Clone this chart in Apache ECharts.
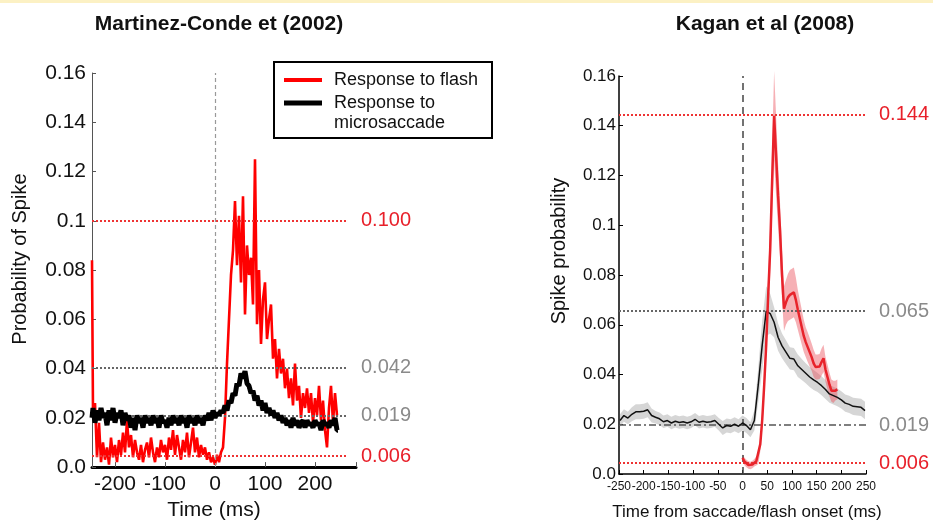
<!DOCTYPE html>
<html><head><meta charset="utf-8">
<script src="https://cdn.jsdelivr.net/npm/echarts@6/dist/echarts.min.js"></script>
<style>html,body{margin:0;padding:0;background:#fff}#c{width:933px;height:526px}</style>
</head><body><div id="c"></div>
<script>
// ---------- Martinez-Conde et (2002): 4 ms bins starting at -246 ms ----------
const mcFirstBinMs = -246;
const mcBinWidthMs = 4;
const mcFlash = [
  0.084,0.022,0.026,0.004,0.018,0.002,0.010,0.003,0.008,0.001,
  0.012,0.004,0.009,0.002,0.011,0.005,0.014,0.006,0.019,0.008,
  0.013,0.004,0.011,0.006,0.003,0.009,0.002,0.007,0.010,0.004,
  0.012,0.006,0.002,0.008,0.004,0.011,0.006,0.009,0.003,0.012,
  0.007,0.015,0.005,0.013,0.008,0.003,0.011,0.006,0.014,0.004,
  0.010,0.016,0.006,0.012,0.004,0.009,0.005,0.008,0.003,0.006,
  0.002,0.004,0.001,0.005,0.002,0.006,0.008,0.020,0.042,0.060,
  0.078,0.088,0.108,0.082,0.102,0.075,0.110,0.062,0.090,0.078,
  0.085,0.066,0.125,0.058,0.080,0.050,0.068,0.075,0.052,0.060,
  0.066,0.044,0.052,0.036,0.048,0.038,0.044,0.032,0.040,0.028,
  0.036,0.025,0.042,0.027,0.033,0.020,0.030,0.024,0.032,0.022,
  0.030,0.018,0.028,0.021,0.033,0.019,0.027,0.015,0.008,0.024,
  0.033,0.018,0.030,0.021
];
const mcMicro = [
  0.020,0.024,0.018,0.023,0.019,0.024,0.020,0.022,0.017,0.023,
  0.019,0.024,0.018,0.022,0.020,0.023,0.017,0.022,0.019,0.021,
  0.016,0.020,0.015,0.021,0.018,0.020,0.016,0.021,0.018,0.020,
  0.017,0.021,0.018,0.020,0.016,0.021,0.018,0.019,0.016,0.020,
  0.017,0.021,0.018,0.020,0.017,0.021,0.018,0.020,0.016,0.021,
  0.018,0.020,0.017,0.021,0.018,0.020,0.017,0.021,0.019,0.022,
  0.019,0.023,0.020,0.022,0.021,0.023,0.022,0.025,0.023,0.027,
  0.026,0.030,0.029,0.034,0.033,0.038,0.036,0.039,0.034,0.033,
  0.030,0.031,0.027,0.029,0.025,0.027,0.023,0.026,0.022,0.024,
  0.021,0.023,0.020,0.022,0.019,0.021,0.018,0.020,0.017,0.019,
  0.016,0.020,0.017,0.019,0.016,0.018,0.019,0.016,0.019,0.017,
  0.018,0.016,0.019,0.017,0.018,0.015,0.019,0.017,0.018,0.016,
  0.019,0.017,0.020,0.015
];
const mcRefValues = [0.1, 0.0405, 0.021, 0.0045];
const mcRefLabels = ['0.100', '0.042', '0.019', '0.006'];
const mcRefKinds  = ['red', 'gray', 'gray', 'red'];
const mcRefSpanMs = [-246, 266];

// ---------- Kagan et al (2008) ----------
const kMicroTimes = [
  -248,-240,-232,-224,-216,-208,-200,-192,-184,-176,
  -168,-160,-152,-144,-136,-128,-120,-112,-104,-96,
  -88,-80,-72,-64,-56,-48,-40,-32,-24,-16,
  -8,0,8,16,24,32,40,48,56,64,
  72,80,88,96,104,112,120,128,136,144,
  152,160,168,176,184,192,200,208,216,224,
  232,240,248
];
const kMicroMean = [
  0.0215,0.0235,0.0225,0.0240,0.0250,0.0250,0.0252,0.0258,0.0235,0.0228,
  0.0222,0.0210,0.0215,0.0205,0.0212,0.0207,0.0210,0.0205,0.0210,0.0220,
  0.0208,0.0212,0.0208,0.0210,0.0215,0.0200,0.0185,0.0195,0.0192,0.0200,
  0.0192,0.0205,0.0195,0.0178,0.0215,0.0360,0.0520,0.0655,0.0645,0.0610,
  0.0550,0.0515,0.0490,0.0465,0.0462,0.0435,0.0420,0.0405,0.0390,0.0378,
  0.0368,0.0355,0.0340,0.0322,0.0315,0.0308,0.0298,0.0285,0.0280,0.0272,
  0.0270,0.0268,0.0255
];
const kMicroSpread = [
  0.0025,0.0025,0.0025,0.0028,0.0030,0.0030,0.0030,0.0030,0.0028,0.0025,
  0.0025,0.0025,0.0025,0.0025,0.0025,0.0025,0.0025,0.0025,0.0025,0.0025,
  0.0025,0.0025,0.0025,0.0025,0.0025,0.0025,0.0028,0.0028,0.0028,0.0028,
  0.0028,0.0030,0.0030,0.0030,0.0040,0.0070,0.0100,0.0100,0.0080,0.0060,
  0.0055,0.0050,0.0048,0.0045,0.0045,0.0045,0.0042,0.0040,0.0040,0.0040,
  0.0038,0.0038,0.0038,0.0036,0.0036,0.0036,0.0035,0.0035,0.0035,0.0035,
  0.0035,0.0035,0.0035
];
const kFlashTimes = [
  0,4,8,12,16,20,24,28,32,36,
  40,44,48,52,56,60,64,68,72,76,
  80,84,88,92,96,100,104,108,112,116,
  120,124,128,132,136,140,144,148,152,156,
  160,164,168,172,176,180,184,188,192
];
const kFlashMean = [
  0.0065,0.0050,0.0042,0.0036,0.0034,0.0038,0.0045,0.0052,0.0060,0.0120,
  0.0220,0.0360,0.0520,0.0720,0.0900,0.1180,0.1440,0.1280,0.1120,0.0980,
  0.0800,0.0665,0.0690,0.0710,0.0720,0.0725,0.0730,0.0700,0.0660,0.0625,
  0.0590,0.0555,0.0530,0.0510,0.0490,0.0470,0.0445,0.0430,0.0430,0.0432,
  0.0450,0.0465,0.0420,0.0390,0.0360,0.0335,0.0330,0.0335,0.0340
];
const kFlashSpread = [
  0.0015,0.0015,0.0015,0.0015,0.0015,0.0015,0.0015,0.0018,0.0020,0.0030,
  0.0040,0.0050,0.0060,0.0080,0.0100,0.0140,0.0180,0.0160,0.0130,0.0110,
  0.0100,0.0090,0.0090,0.0095,0.0100,0.0100,0.0100,0.0090,0.0080,0.0075,
  0.0070,0.0065,0.0060,0.0060,0.0058,0.0055,0.0055,0.0050,0.0050,0.0050,
  0.0055,0.0055,0.0050,0.0050,0.0048,0.0045,0.0045,0.0040,0.0040
];
const kRefValues = [0.1445, 0.0655, 0.0197, 0.0044];
const kRefLabels = ['0.144', '0.065', '0.019', '0.006'];
const kRefKinds  = ['red', 'gray', 'dashdot', 'red'];

const titles = ['Martinez-Conde et (2002)', 'Kagan et al (2008)'];
const legendNames = ['Response to flash', 'Response to', 'microsaccade'];

// ---------- build ----------
const FONT = "'Liberation Sans', Arial, sans-serif";
const RED = '#ff0000', KRED = '#e8232b', LBL_RED = '#e8202a', LBL_GRAY = '#8a8a8a';

const mcTimes = mcFlash.map((_, i) => mcFirstBinMs + i * mcBinWidthMs);
const zip = (ts, vs) => ts.map((t, i) => [t, vs[i]]);
const yFmt = v => Math.abs(v) < 1e-9 ? '0.0' : String(Math.round(v * 100) / 100);

function refStyle(kind) {
  if (kind === 'red') return { color: '#ee3333', type: 'dotted', width: 2 };
  if (kind === 'gray') return { color: '#666666', type: 'dotted', width: 2 };
  return { color: '#555555', type: [7, 3, 2, 3], width: 1.5 };
}
function refLines(values, labels, kinds, span, size) {
  return values.map((v, i) => [
    { coord: [span[0], v], lineStyle: refStyle(kinds[i]),
      label: { show: true, position: 'end', distance: 13, formatter: labels[i],
               color: kinds[i] === 'red' ? LBL_RED : LBL_GRAY, fontSize: size, fontFamily: FONT } },
    { coord: [span[1], v] }
  ]);
}
function bandSeries(times, mean, spread, fill) {
  return {
    type: 'custom', xAxisIndex: 1, yAxisIndex: 1, z: 1, silent: true,
    data: times.map((t, i) => [t, mean[i] - spread[i], mean[i] + spread[i]]),
    encode: { x: 0, y: [1, 2] },
    renderItem: (params, api) => {
      if (params.dataIndex !== 0) return null;
      const pts = [];
      for (let i = 0; i < times.length; i++) pts.push(api.coord([times[i], mean[i] + spread[i]]));
      for (let i = times.length - 1; i >= 0; i--) pts.push(api.coord([times[i], mean[i] - spread[i]]));
      return { type: 'polygon', shape: { points: pts }, style: { fill: fill } };
    }
  };
}

const chart = echarts.init(document.getElementById('c'));
chart.setOption({
  animation: false,
  backgroundColor: '#fff',
  grid: [
    { left: 92, right: 577, top: 73, bottom: 52 },
    { left: 619, right: 67, top: 76, bottom: 52 }
  ],
  xAxis: [
    { gridIndex: 0, type: 'value', min: -246, max: 282, splitNumber: 5,
      axisLine: { onZero: false, lineStyle: { color: '#000', width: 3 } },
      axisTick: { inside: true, length: 5, lineStyle: { color: '#555' } },
      axisLabel: { formatter: v => (v % 100 === 0 ? String(v) : ''), fontSize: 21, color: '#111', fontFamily: FONT, margin: 7 },
      splitLine: { show: false },
      name: 'Time (ms)', nameLocation: 'middle', nameGap: 29,
      nameTextStyle: { fontSize: 21, color: '#111', fontFamily: FONT, padding: [0, 20, 0, 0] } },
    { gridIndex: 1, type: 'value', min: -250, max: 250, interval: 50,
      axisLine: { onZero: false, lineStyle: { color: '#000', width: 1.5 } },
      axisTick: { inside: true, length: 4, lineStyle: { color: '#000' } },
      axisLabel: { fontSize: 12, color: '#111', fontFamily: FONT, margin: 7, interval: 0, showMinLabel: true, showMaxLabel: true, hideOverlap: false },
      splitLine: { show: false },
      name: 'Time from saccade/flash onset (ms)', nameLocation: 'middle', nameGap: 30,
      nameTextStyle: { fontSize: 17, color: '#111', fontFamily: FONT, padding: [0, 0, 0, 9] } }
  ],
  yAxis: [
    { gridIndex: 0, type: 'value', min: 0, max: 0.16, interval: 0.02,
      axisLine: { show: true, onZero: false, lineStyle: { color: '#555', width: 1 } },
      axisTick: { show: true, inside: true, length: 4, lineStyle: { color: '#555' } },
      axisLabel: { formatter: yFmt, fontSize: 21, color: '#111', fontFamily: FONT, margin: 6 },
      splitLine: { show: false },
      name: 'Probability of Spike', nameLocation: 'middle', nameRotate: 90, nameGap: 62,
      nameTextStyle: { fontSize: 20, color: '#111', fontFamily: FONT, padding: [0, 0, 0, 22] } },
    { gridIndex: 1, type: 'value', min: 0, max: 0.16, interval: 0.02,
      axisLine: { show: true, onZero: false, lineStyle: { color: '#000', width: 1.5 } },
      axisTick: { show: true, inside: true, length: 4, lineStyle: { color: '#000' } },
      axisLabel: { formatter: yFmt, fontSize: 17, color: '#111', fontFamily: FONT, margin: 3 },
      splitLine: { show: false },
      name: 'Spike probability', nameLocation: 'middle', nameRotate: 90, nameGap: 50,
      nameTextStyle: { fontSize: 20, color: '#111', fontFamily: FONT, padding: [0, 0, 0, 48] } }
  ],
  series: [
    { name: 'mcFlash', type: 'line', xAxisIndex: 0, yAxisIndex: 0, data: zip(mcTimes, mcFlash),
      step: 'middle', symbol: 'none', lineStyle: { color: RED, width: 2.6 }, itemStyle: { color: RED }, z: 2,
      markLine: { silent: true, symbol: ['none', 'none'], animation: false, z: 3,
        data: refLines(mcRefValues, mcRefLabels, mcRefKinds, mcRefSpanMs, 20).concat([
          { xAxis: 0, lineStyle: { color: '#999', type: [4, 3], width: 1.2 }, label: { show: false } }
        ]) } },
    { name: 'mcMicro', type: 'line', xAxisIndex: 0, yAxisIndex: 0, data: zip(mcTimes, mcMicro),
      step: 'middle', symbol: 'none', lineStyle: { color: '#000', width: 5 }, itemStyle: { color: '#000' }, z: 4 },
    bandSeries(kMicroTimes, kMicroMean, kMicroSpread, 'rgba(200,200,200,0.75)'),
    bandSeries(kFlashTimes, kFlashMean, kFlashSpread, 'rgba(236,80,90,0.45)'),
    { name: 'kMicro', type: 'line', xAxisIndex: 1, yAxisIndex: 1, data: zip(kMicroTimes, kMicroMean),
      symbol: 'none', lineStyle: { color: '#111', width: 1.5 }, z: 3,
      markLine: { silent: true, symbol: ['none', 'none'], animation: false, z: 2,
        data: refLines(kRefValues, kRefLabels, kRefKinds, [-250, 250], 20).concat([
          { xAxis: 0, lineStyle: { color: '#444', type: [7, 5], width: 1.5 }, label: { show: false } }
        ]) } },
    { name: 'kFlash', type: 'line', xAxisIndex: 1, yAxisIndex: 1, data: zip(kFlashTimes, kFlashMean),
      symbol: 'none', lineStyle: { color: KRED, width: 2.5 }, z: 4 }
  ],
  graphic: [
    { type: 'rect', left: 0, top: 0, shape: { width: 933, height: 3 }, style: { fill: '#fcf1c4' }, silent: true },
    { type: 'text', x: 219, y: 24, style: { text: titles[0], font: "bold 21px " + FONT, fill: '#111', textAlign: 'center', textVerticalAlign: 'middle' } },
    { type: 'text', x: 765, y: 24, style: { text: titles[1], font: "bold 21px " + FONT, fill: '#111', textAlign: 'center', textVerticalAlign: 'middle' } },
    { type: 'group', z: 100, children: [
      { type: 'rect', shape: { x: 274, y: 62, width: 218, height: 76 }, style: { fill: '#fff', stroke: '#000', lineWidth: 2 } },
      { type: 'line', shape: { x1: 284, y1: 80, x2: 322, y2: 80 }, style: { stroke: RED, lineWidth: 4 } },
      { type: 'line', shape: { x1: 284, y1: 103, x2: 322, y2: 103 }, style: { stroke: '#000', lineWidth: 5 } },
      { type: 'text', x: 334, y: 80, style: { text: legendNames[0], font: "18px " + FONT, fill: '#111', textVerticalAlign: 'middle' } },
      { type: 'text', x: 334, y: 103, style: { text: legendNames[1], font: "18px " + FONT, fill: '#111', textVerticalAlign: 'middle' } },
      { type: 'text', x: 334, y: 123, style: { text: legendNames[2], font: "18px " + FONT, fill: '#111', textVerticalAlign: 'middle' } }
    ] }
  ]
});
</script></body></html>
